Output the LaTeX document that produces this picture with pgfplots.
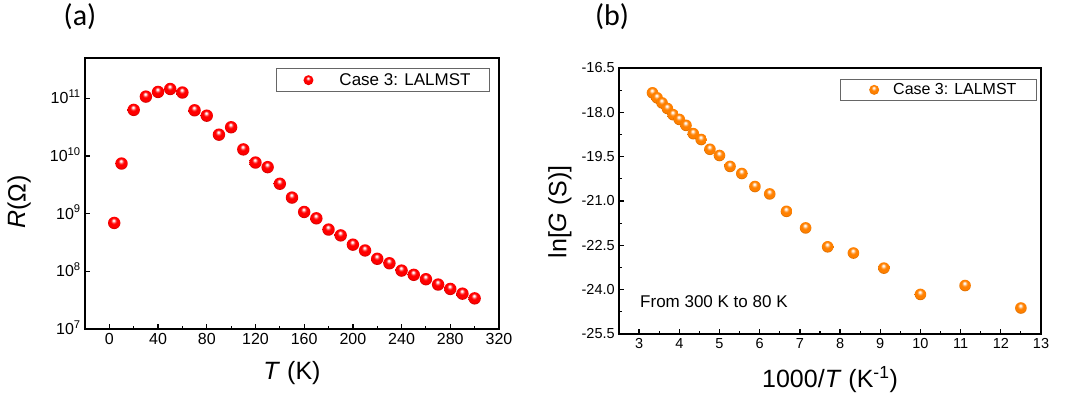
\documentclass[border=0pt]{standalone}
\usepackage{fontspec}
\setmainfont{Liberation Sans}
\newfontfamily\calib{Carlito}
\usepackage{pgfplots}
\pgfplotsset{compat=1.18}
\usepackage{pgfplotstable}

\definecolor{ballred}{RGB}{255,0,0}
\definecolor{ballorange}{RGB}{255,128,0}

\pgfdeclareradialshading{redball}{\pgfpoint{-3bp}{11bp}}{color(0bp)=(white); color(2.5bp)=(white); color(9bp)=(ballred!80!white); color(13bp)=(ballred); color(23bp)=(ballred); color(28bp)=(ballred!78!black); color(50bp)=(ballred!78!black)}
\pgfdeclareradialshading{orangeball}{\pgfpoint{-3bp}{11bp}}{color(0bp)=(white); color(2.5bp)=(white); color(9bp)=(ballorange!70!white); color(13bp)=(ballorange); color(23bp)=(ballorange); color(28bp)=(ballorange!82!black); color(50bp)=(ballorange!82!black)}

\pgfdeclareplotmark{redball}{\pgfpathcircle{\pgfpointorigin}{\pgfplotmarksize}\pgfshadepath{redball}{0}\pgfusepath{}}
\pgfdeclareplotmark{orangeball}{\pgfpathcircle{\pgfpointorigin}{\pgfplotmarksize}\pgfshadepath{orangeball}{0}\pgfusepath{}}

\pgfplotstableread{
T R
4 6.9e8
10 7.4e9
20 6.3e10
30 1.07e11
40 1.29e11
50 1.45e11
60 1.26e11
70 6.2e10
80 5.0e10
90 2.34e10
100 3.15e10
110 1.3e10
120 7.7e9
130 6.4e9
140 3.3e9
150 1.9e9
160 1.07e9
170 8.3e8
180 5.3e8
190 4.2e8
200 2.9e8
210 2.3e8
220 1.65e8
230 1.38e8
240 1.03e8
250 8.7e7
260 7.3e7
270 5.9e7
280 4.95e7
290 4.1e7
300 3.4e7
}\dataA

\pgfplotstableread{
x y
3.333 -17.34
3.448 -17.51
3.571 -17.68
3.704 -17.87
3.846 -18.08
4.000 -18.24
4.167 -18.44
4.348 -18.72
4.545 -18.92
4.762 -19.25
5.000 -19.46
5.263 -19.83
5.556 -20.07
5.882 -20.51
6.250 -20.76
6.667 -21.35
7.143 -21.91
7.692 -22.55
8.333 -22.76
9.091 -23.27
10.000 -24.16
11.111 -23.86
12.500 -24.62
}\dataB

\pgfplotsset{
  common/.style={
    scale only axis,
    anchor=south west,
    line width=2pt,
    tick align=inside,
    tick pos=left,
    major tick length=5pt,
    minor tick length=3pt,
    every tick/.style={black, line width=1.3pt},
    every minor tick/.style={black, line width=1.1pt},
    /pgf/number format/assume math mode=true,
  }
}

\begin{document}
\begin{tikzpicture}
\useasboundingbox (0,0) rectangle (1070pt,398pt);

\node[font=\calib\fontsize{30}{30}\selectfont] at (80pt,381pt) {(a)};
\node[font=\calib\fontsize{30}{30}\selectfont] at (612pt,381pt) {(b)};

\begin{axis}[common,
  at={(85pt,69pt)}, width=414pt, height=271pt,
  xmin=-20, xmax=320,
  ymode=log, log basis y=10, ymin=1e7, ymax=5e11,
  xtick={0,40,...,320}, minor x tick num=1,
  ytick={1e7,1e8,1e9,1e10,1e11},
  yticklabels={10\textsuperscript{\smash{7}},10\textsuperscript{\smash{8}},10\textsuperscript{\smash{9}},10\textsuperscript{\smash{10}},10\textsuperscript{\smash{11}}},
  tick label style={font=\fontsize{16}{16}\selectfont},
  xlabel={\textit{T} (K)},
  ylabel={\textit{R}(Ω)},
  label style={font=\fontsize{25}{25}\selectfont},
  xlabel style={at={(axis description cs:0.5,0)}, anchor=center, yshift=-44pt},
  ylabel style={at={(axis description cs:-0.159,0.469)}, anchor=center},
  legend style={at={(rel axis cs:1,1)}, anchor=north east, xshift=-9pt, yshift=-10pt,
    draw=black!60, line width=1pt, inner xsep=19pt, inner ysep=5pt,
    font=\fontsize{17}{20}\selectfont, nodes={inner sep=0pt}},
  legend image code/.code={\path[draw=none,fill=none] (0pt,-6pt) rectangle (44pt,6pt); \draw[#1,only marks,mark size=5pt] plot coordinates {(13pt,0pt)};},
]
\addplot[only marks, mark=redball, mark size=6.2pt] table {\dataA};
\addlegendentry{Case 3: LALMST}
\end{axis}

\begin{axis}[common,
  at={(619pt,64pt)}, width=422pt, height=266pt,
  xmin=2.5, xmax=13,
  ymin=-25.5, ymax=-16.5,
  xtick={3,4,...,13}, minor x tick num=1,
  ytick={-25.5,-24,-22.5,-21,-19.5,-18,-16.5}, minor y tick num=1,
  yticklabel style={/pgf/number format/.cd, fixed, fixed zerofill, precision=1},
  tick label style={font=\fontsize{14.5}{14.5}\selectfont},
  xlabel={1000/\textit{T} (K\textsuperscript{-1})},
  ylabel={ln[\textit{G} (S)]},
  label style={font=\fontsize{25}{25}\selectfont},
  xlabel style={at={(axis description cs:0.5,0)}, anchor=center, yshift=-46pt},
  ylabel style={at={(axis description cs:-0.14,0.459)}, anchor=center},
  legend style={at={(rel axis cs:1,1)}, anchor=north east, xshift=-4pt, yshift=-11pt,
    draw=black!60, line width=1pt, inner xsep=20pt, inner ysep=4pt,
    font=\fontsize{16}{19}\selectfont, nodes={inner sep=0pt}},
  legend image code/.code={\path[draw=none,fill=none] (0pt,-6pt) rectangle (33pt,6pt); \draw[#1,only marks,mark size=5pt] plot coordinates {(14pt,0pt)};},
]
\addplot[only marks, mark=orangeball, mark size=5.8pt] table {\dataB};
\addlegendentry{Case 3: LALMST}
\node[anchor=west, font=\fontsize{17}{17}\selectfont] at (rel axis cs:0.04,0.12) {From 300 K to 80 K};
\end{axis}
\end{tikzpicture}
\end{document}
